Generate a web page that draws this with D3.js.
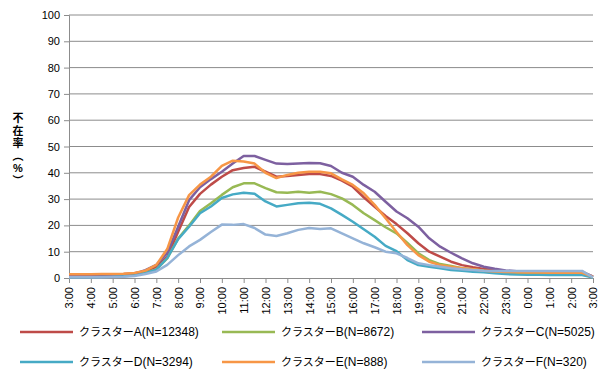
<!DOCTYPE html>
<html>
<head>
<meta charset="utf-8">
<script src="https://cdn.jsdelivr.net/npm/d3@7"></script>
<style>
  body { margin: 0; background: #fff; }
  svg { display: block; }
  text { font-family: "Liberation Sans", "Noto Sans CJK JP", sans-serif; fill: #000; }
</style>
</head>
<body>
<div id="main"></div>
<script>
(function() {
  // hour tick labels, 3:00 through next day 3:00
  const hourLabels = ["3:00","4:00","5:00","6:00","7:00","8:00","9:00","10:00","11:00","12:00",
    "13:00","14:00","15:00","16:00","17:00","18:00","19:00","20:00","21:00","22:00","23:00",
    "0:00","1:00","2:00","3:00"];
  const yTicks = [0, 10, 20, 30, 40, 50, 60, 70, 80, 90, 100];

  // absence rate every 30 minutes from 3:00
  const clusterA = [1.2,1.2,1.2,1.3,1.4,1.5,1.8,2.5,4.2,8,17.6,27,32,35.5,38.5,41,41.8,42.3,40.4,38.5,
    38.8,39.2,39.5,39.5,38.8,37,34.7,30.7,27.1,23.6,20.5,17,13.2,10,8.1,6.2,4.9,4.1,3.4,3,
    2.6,2.4,2.3,2.2,2.2,2.2,2.2,2.2,0.5];
  const clusterB = [0.5,0.5,0.5,0.6,0.7,0.9,1.2,2,3.3,7.5,15,20,25.5,28.4,31.6,34.5,36,36,34.2,32.6,
    32.4,32.8,32.4,32.8,31.9,30.3,27.8,24.6,22,19.3,17,13.3,9.4,6.8,5.3,4.6,3.7,3.3,2.8,2.3,
    2,1.8,1.7,1.7,1.6,1.6,1.6,1.6,0.3];
  const clusterC = [0.8,0.8,0.8,0.9,1,1.2,1.6,3,5,9.5,19.5,29.6,34.5,37.6,40.4,43.5,46.4,46.4,44.9,43.5,
    43.3,43.5,43.7,43.6,42.6,40,38.5,35.4,32.8,29,25.3,22.7,19.5,15.1,11.9,9.6,7.5,5.6,4.3,3.5,
    2.9,2.6,2.5,2.4,2.4,2.4,2.4,2.4,0.5];
  const clusterD = [0.3,0.3,0.3,0.4,0.5,0.7,1,1.8,3.2,7.6,14.8,19.5,24.6,27.2,30.4,31.8,32.4,32,29.1,27.2,
    27.8,28.4,28.6,28.2,26.5,24,21.4,18.5,15.7,12.2,10.2,6.8,4.9,4.3,3.7,3,2.8,2.4,2.2,1.8,
    1.5,1.3,1.2,1.2,1.1,1.1,1.1,1.1,0.2];
  const clusterE = [1.4,1.4,1.4,1.5,1.5,1.6,1.9,2.8,5,11,23,31.5,35.5,38.5,42.6,44.6,44.3,43.5,40,38,
    39.2,40,40.4,40.4,39.8,37.5,35.4,32.2,27.8,22.7,17.5,12.5,8.7,6.2,4.9,4.3,3.7,3.3,2.8,2.5,
    2.3,2.2,2.1,2.1,2,2,2,2,0.4];
  const clusterF = [0.3,0.3,0.3,0.3,0.4,0.5,0.8,1.5,2.5,5,8.7,12,14.5,17.5,20.3,20.2,20.5,19,16.5,16,
    17,18.3,19,18.6,18.9,17,15.1,13.2,11.7,10,9.4,7.6,5.6,4.9,4.3,3.7,3.3,3,2.8,2.7,
    2.7,2.7,2.7,2.7,2.7,2.7,2.7,2.7,0.2];

  const seriesNames = ["クラスターA(N=12348)","クラスターB(N=8672)","クラスターC(N=5025)",
    "クラスターD(N=3294)","クラスターE(N=888)","クラスターF(N=320)"];
  const seriesValues = [clusterA, clusterB, clusterC, clusterD, clusterE, clusterF];
  const seriesColors = ["#BE4B48","#98B954","#7D60A0","#46AAC5","#F79646","#95B3D7"];

  const width = 605, height = 371;
  const margin = {left: 69, right: 12, top: 15, bottom: 93};

  const svg = d3.select("#main").append("svg")
    .attr("width", width)
    .attr("height", height);

  const x = d3.scaleLinear().domain([0, 24]).range([margin.left, width - margin.right]);
  const y = d3.scaleLinear().domain([0, 100]).range([height - margin.bottom, margin.top]);

  // grid
  svg.append("g")
    .selectAll("line")
    .data(yTicks.filter(d => d > 0))
    .join("line")
    .attr("x1", margin.left).attr("x2", width - margin.right)
    .attr("y1", d => y(d)).attr("y2", d => y(d))
    .attr("stroke", "#8c8c8c")
    .attr("stroke-width", 1);

  // y axis
  const yAxis = svg.append("g")
    .attr("transform", `translate(${margin.left},0)`)
    .call(d3.axisLeft(y).tickValues(yTicks).tickSize(5).tickPadding(4));
  yAxis.selectAll("path, line").attr("stroke", "#8c8c8c");
  yAxis.selectAll("text").attr("font-size", "11px").attr("font-family", "Liberation Sans");

  // x axis
  const xAxis = svg.append("g")
    .attr("transform", `translate(0,${y(0)})`)
    .call(d3.axisBottom(x).tickValues(d3.range(25)).tickSize(5).tickFormat(i => hourLabels[i]));
  xAxis.selectAll("path, line").attr("stroke", "#8c8c8c");
  xAxis.selectAll("text")
    .attr("font-size", "11px")
    .attr("font-family", "Liberation Sans")
    .attr("text-anchor", "end")
    .attr("transform", "rotate(-90)")
    .attr("x", -9)
    .attr("y", 0)
    .attr("dy", "0.35em");

  // y title, stacked characters
  const titleChars = ["不", "在", "率", "︵", "%", "︶"];
  svg.append("text")
    .attr("font-size", "11px")
    .attr("font-weight", "bold")
    .attr("font-family", "Noto Sans CJK JP")
    .attr("text-anchor", "middle")
    .selectAll("tspan")
    .data(titleChars)
    .join("tspan")
    .attr("x", 18)
    .attr("y", (d, i) => 122 + i * 12.5)
    .text(d => d);

  // lines
  const line = d3.line()
    .x((d, i) => x(i * 0.5))
    .y(d => y(d));

  svg.append("g")
    .selectAll("path")
    .data(seriesValues)
    .join("path")
    .attr("fill", "none")
    .attr("stroke", (d, i) => seriesColors[i])
    .attr("stroke-width", 2.5)
    .attr("stroke-linejoin", "round")
    .attr("d", line);

  // legend
  const legendCols = [20, 222, 422];
  const legendRows = [332, 362];
  const legend = svg.append("g")
    .selectAll("g")
    .data(seriesNames)
    .join("g")
    .attr("transform", (d, i) => `translate(${legendCols[i % 3]},${legendRows[Math.floor(i / 3)]})`);
  legend.append("line")
    .attr("x1", 0).attr("x2", 53)
    .attr("stroke", (d, i) => seriesColors[i])
    .attr("stroke-width", 2.5);
  const legendText = legend.append("text")
    .attr("x", 59)
    .attr("dy", "0.35em")
    .attr("font-size", "12px");
  legendText.append("tspan")
    .attr("font-size", "11px")
    .text(d => d.slice(0, 5));
  legendText.append("tspan")
    .text(d => d.slice(5));
})();
</script>
</body>
</html>
